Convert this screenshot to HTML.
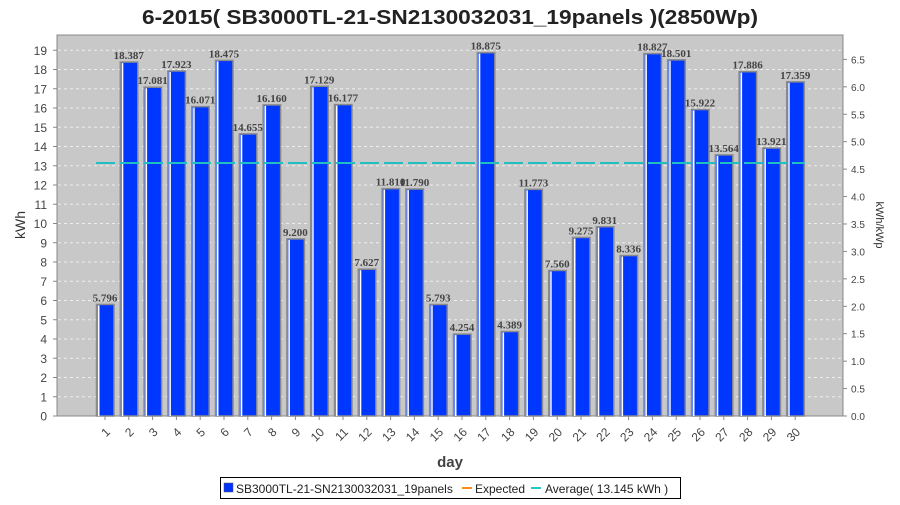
<!DOCTYPE html>
<html><head><meta charset="utf-8"><style>
body{margin:0;background:#fff;width:900px;height:500px;overflow:hidden}
svg text{font-family:"Liberation Sans",sans-serif}
</style></head><body>
<svg id="s" width="900" height="500" xmlns="http://www.w3.org/2000/svg">
<text x="450" y="24" text-anchor="middle" font-size="20" font-weight="bold" fill="#222" textLength="616" lengthAdjust="spacingAndGlyphs">6-2015( SB3000TL-21-SN2130032031_19panels )(2850Wp)</text>
<rect x="57" y="35" width="786" height="381" fill="#c8c8c8" stroke="#888" stroke-width="1"/>
<g id="g"></g>
<text x="25" y="225" font-size="14" fill="#333" text-anchor="middle" transform="rotate(-90 25 225)">kWh</text>
<text x="876" y="225" font-size="11" fill="#333" text-anchor="middle" transform="rotate(90 876 225)">kWh/kWp</text>
<text x="450" y="467" font-size="15" font-weight="bold" fill="#444" text-anchor="middle">day</text>
<rect x="220.5" y="477.5" width="460" height="21" fill="#fff" stroke="#000"/>
<rect x="224" y="483" width="9" height="9" fill="#0033ff" stroke="#555" stroke-width="0.5"/>
<text x="236" y="493" font-size="12" fill="#222">SB3000TL-21-SN2130032031_19panels</text>
<rect x="462" y="487" width="10" height="2" fill="#ff8c1a"/>
<text x="475" y="493" font-size="12" fill="#222">Expected</text>
<rect x="531" y="487" width="10" height="2" fill="#20c8c8"/>
<text x="545" y="493" font-size="12" fill="#222">Average( 13.145 kWh )</text>
</svg>
<script>
var v=[5.796,18.387,17.081,17.923,16.071,18.475,14.655,16.160,9.200,17.129,16.177,7.627,11.810,11.790,5.793,4.254,18.875,4.389,11.773,7.560,9.275,9.831,8.336,18.827,18.501,15.922,13.564,17.886,13.921,17.359];
var g=document.getElementById('g'),h='';
var B=416,U=19.25;
for(var k=0;k<=19;k++){var y=B-k*U;
 if(k>0)h+='<line x1="58" x2="842" y1="'+y+'" y2="'+y+'" stroke="#eee" stroke-dasharray="3,3" stroke-width="1"/>';
 h+='<line x1="53" x2="57" y1="'+y+'" y2="'+y+'" stroke="#888"/>';
 h+='<text x="47" y="'+(y+4.5)+'" font-size="12" fill="#444" text-anchor="end">'+k+'</text>';}
for(var k=0;k<=13;k++){var val=k*0.5,y=B-val*2.85*U;
 h+='<line x1="843" x2="847" y1="'+y+'" y2="'+y+'" stroke="#888"/>';
 h+='<text x="851" y="'+(y+4)+'" font-size="10" fill="#444">'+val.toFixed(1)+'</text>';}
for(var i=0;i<30;i++){var x=96+23.8*i,ht=v[i]*U,y=B-ht,c=x+9;
 h+='<rect x="'+(x+0.5)+'" y="'+y+'" width="17.5" height="'+ht+'" fill="#0037ff" stroke="#8a8a8a" stroke-width="1.5"/>';
 h+='<rect x="'+(x+2)+'" y="'+(y+1)+'" width="1.5" height="'+(ht-1)+'" fill="#fff"/>';
 h+='<rect x="'+(x+1)+'" y="'+(y+1)+'" width="1" height="'+(ht-1)+'" fill="#6688ff"/>';
 h+='<text x="'+c+'" y="'+(y-3)+'" font-size="11" font-weight="bold" fill="#444" text-anchor="middle" font-family="Liberation Serif,serif" style="font-family:\'Liberation Serif\',serif">'+v[i].toFixed(3)+'</text>';
 h+='<line x1="'+c+'" x2="'+c+'" y1="416" y2="420" stroke="#888"/>';
 h+='<text x="'+(c+3)+'" y="'+434+'" font-size="12" fill="#444" text-anchor="end" transform="rotate(-45 '+(c+3)+' 430)">'+(i+1)+'</text>';}
h+='<line x1="96" x2="805" y1="163" y2="163" stroke="#20c0c0" stroke-width="2" stroke-dasharray="19,5"/>';
g.innerHTML=h;
</script>
</body></html>
